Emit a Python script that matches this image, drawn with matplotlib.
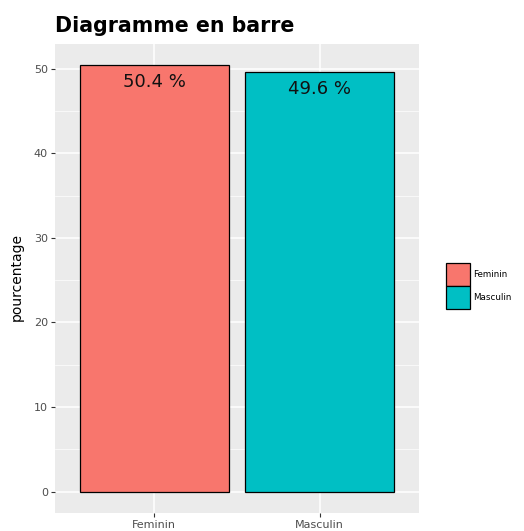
import matplotlib
matplotlib.use("Agg")
import matplotlib.pyplot as plt
from matplotlib.patches import Patch
import numpy as np

categories = ["Feminin", "Masculin"]
values = [50.4, 49.6]
labels = ["50.4 %", "49.6 %"]
colors = ["#F8766D", "#00BFC4"]
yticks = [0, 10, 20, 30, 40, 50]

plt.rcParams['font.family'] = ['DejaVu Sans']

W, H = 524, 531
fig = plt.figure(figsize=(W/100, H/100), dpi=100)
ax = fig.add_axes([55/W, 18/H, (419-55)/W, (513-44)/H])
ax.set_facecolor("#EBEBEB")

x = np.arange(1, len(categories) + 1)
ax.bar(x, values, width=0.9, color=colors, edgecolor="black", linewidth=0.9, zorder=3)
for xi, v, lab in zip(x, values, labels):
    ax.text(xi, v - 1.95, lab, ha="center", va="center", fontsize=13, color="#111111", zorder=4)

ymax = max(values)
ax.set_xlim(0.4, len(categories) + 0.6)
ax.set_ylim(-0.05 * ymax, ymax * 1.05)
ax.set_yticks(yticks)
ax.set_yticks([5, 15, 25, 35, 45], minor=True)
ax.set_xticks(x)
ax.set_xticklabels(categories)
ax.grid(True, which="major", color="white", linewidth=1.1, zorder=0)
ax.grid(True, which="minor", axis="y", color="white", linewidth=0.5, zorder=0)
for s in ax.spines.values():
    s.set_visible(False)
ax.tick_params(axis="both", which="major", length=3, color="#333333", labelsize=8, labelcolor="#4D4D4D", pad=2)
ax.tick_params(axis="y", which="minor", length=0)

fig.text(17/W, 1 - 277/H, "pourcentage", rotation=90, fontsize=10, ha="center", va="center")
fig.text(55/W, 1 - 32/H, "Diagramme en barre", fontsize=14.8, fontweight="bold", ha="left", va="baseline")

handles = [Patch(facecolor=c, edgecolor="black", linewidth=0.9) for c in colors]
leg = fig.legend(handles, categories, loc="center left", bbox_to_anchor=(446/W, 1 - 286/H),
                 frameon=False, fontsize=6.3, handlelength=2.75, handleheight=3.6,
                 handletextpad=0.3, labelspacing=0.05, borderpad=0, borderaxespad=0)

fig.savefig("out.png", dpi=100)
